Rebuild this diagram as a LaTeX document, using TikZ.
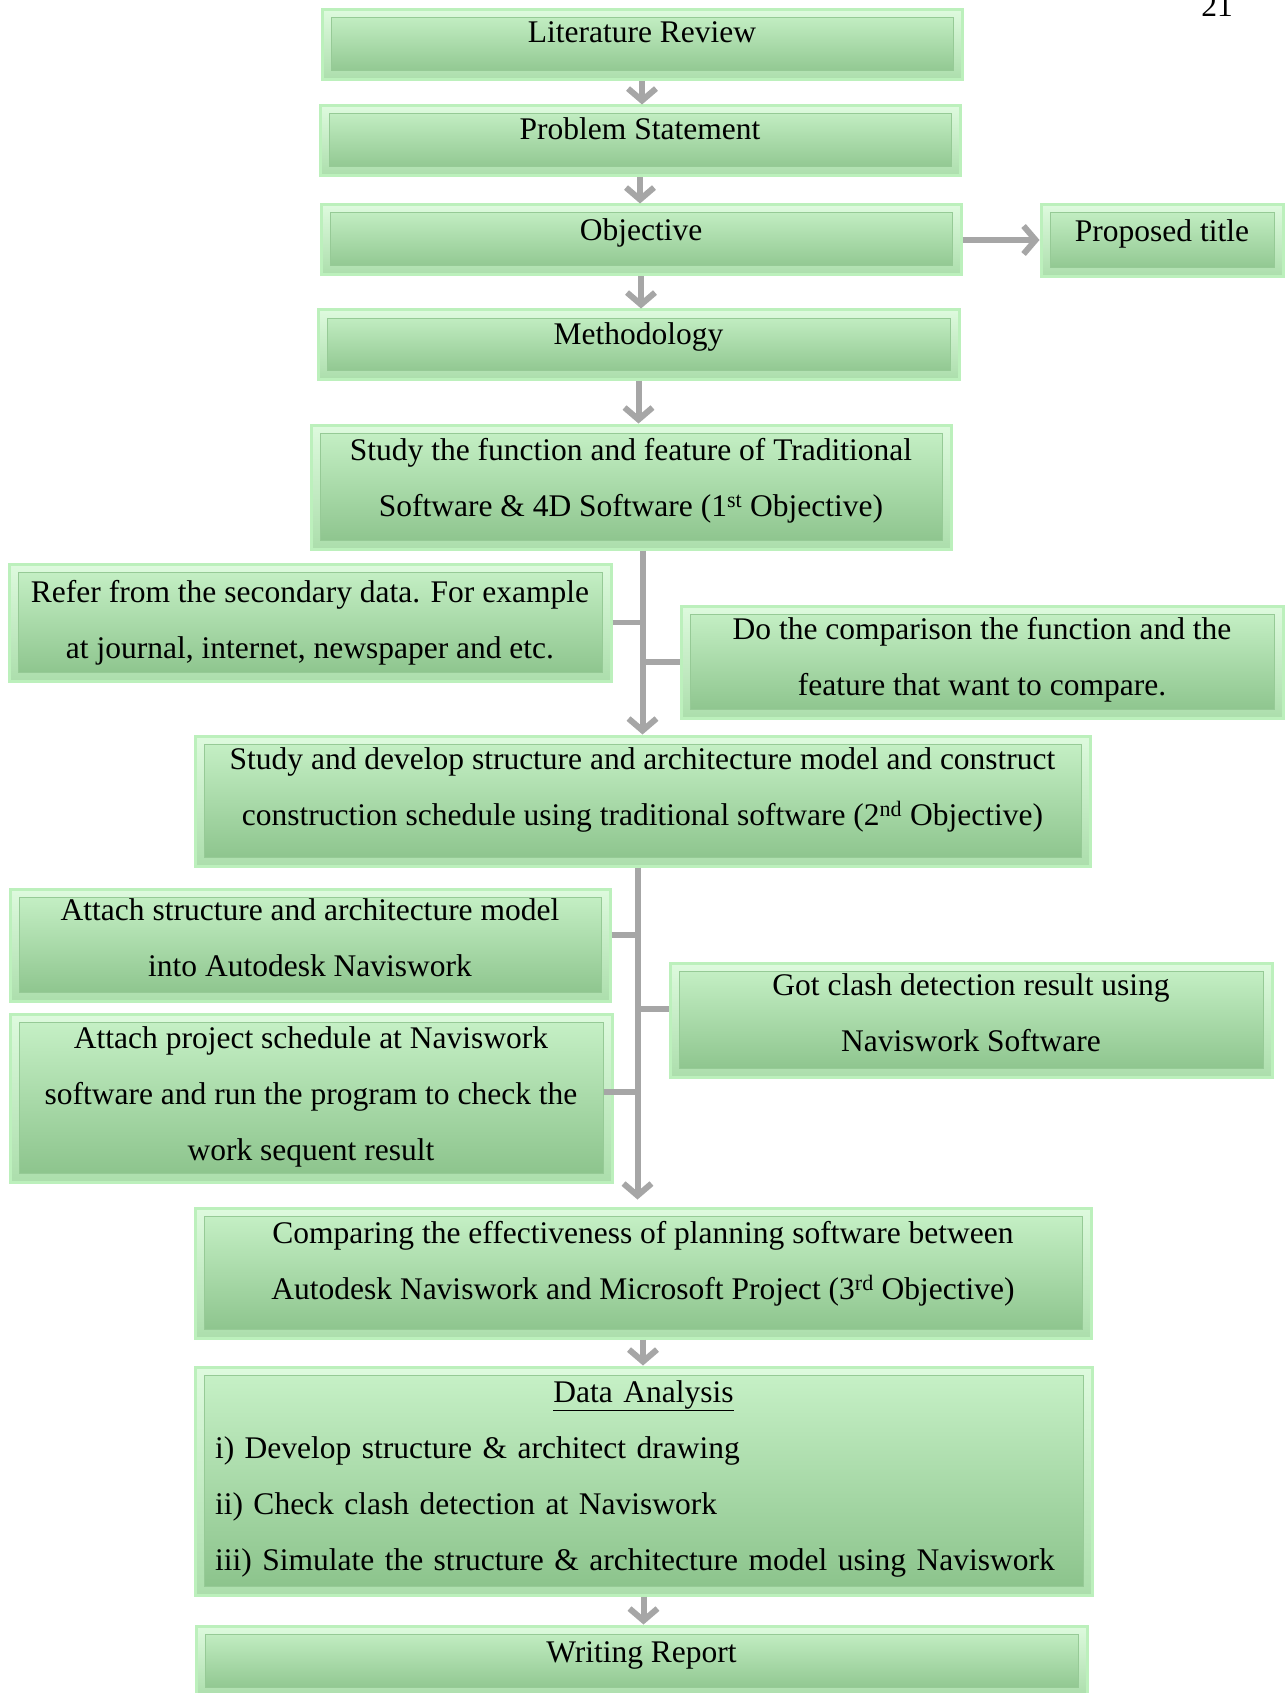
\documentclass[tikz,border=0pt]{standalone}
\usepackage{fontspec}
\setmainfont{Liberation Serif}
\usepackage{tikz}
\usetikzlibrary{arrows.meta}

\definecolor{boxtop}{RGB}{200,242,200}
\definecolor{boxbot}{RGB}{138,194,138}
\definecolor{rimtop}{RGB}{222,250,222}
\definecolor{rimbot}{RGB}{172,222,172}
\definecolor{boxline}{RGB}{150,202,150}
\definecolor{boxglow}{RGB}{188,240,188}
\definecolor{flow}{RGB}{166,166,166}

\begin{document}
\begin{tikzpicture}[x=1pt,y=1pt,
  stage/.style={rectangle,inner sep=0pt,draw=boxglow,line width=3pt,
    top color=rimtop,bottom color=rimbot,
    font=\fontsize{31.5}{56}\selectfont,align=center,text depth=22pt,
    path picture={
      \shade[top color=boxtop,bottom color=boxbot,draw=boxline,line width=1pt]
        ([shift={(9pt,-8pt)}]path picture bounding box.north west)
        rectangle ([shift={(-9pt,9pt)}]path picture bounding box.south east);}},
  arr/.style={-{Straight Barb[length=12pt,width=28pt]},draw=flow,line width=6pt},
  link/.style={draw=flow,line width=5.5pt}]

  \useasboundingbox (0,0) rectangle (1285,-1693);

  \node[anchor=base,font=\fontsize{31.5}{56}\selectfont] (pagenum) at (1217,-17) {21};

  % main column
  \node[stage,minimum width=640pt,minimum height=70pt,text depth=25pt] (lit) at (642,-45) {Literature Review};
  \node[stage,minimum width=640pt,minimum height=70pt,text depth=24pt] (prob) at (640,-141) {Problem Statement};
  \node[stage,minimum width=640pt,minimum height=70pt,text depth=20pt] (obj) at (641,-240) {Objective};
  \node[stage,minimum width=242pt,minimum height=72pt,text depth=20pt] (title) at (1162,-241) {Proposed title};
  \node[stage,minimum width=641pt,minimum height=69pt] (meth) at (638.5,-344.5) {Methodology};
  \node[stage,minimum width=640pt,minimum height=124pt,text depth=20pt] (func) at (631,-487)
    {Study the function and feature of Traditional\\Software \& 4D Software (1\textsuperscript{st} Objective)};

  % 1st objective side boxes
  \node[stage,minimum width=602pt,minimum height=117pt,text depth=7pt] (refer) at (310,-622.5)
    {Refer from the secondary data. For example\\at journal, internet, newspaper and etc.};
  \node[stage,minimum width=602pt,minimum height=112pt,text depth=12pt] (compare) at (982,-662)
    {Do the comparison the function and the\\feature that want to compare.};

  \node[stage,minimum width=895pt,minimum height=130pt,text depth=28pt] (develop) at (642.5,-801)
    {Study and develop structure and architecture model and construct\\construction schedule using traditional software (2\textsuperscript{nd} Objective)};

  % 2nd objective side boxes
  \node[stage,minimum width=600pt,minimum height=112pt,text depth=14pt] (attach) at (310,-945)
    {Attach structure and architecture model\\into Autodesk Naviswork};
  \node[stage,minimum width=602pt,minimum height=168pt,text depth=8pt] (sched) at (311,-1098)
    {Attach project schedule at Naviswork\\software and run the program to check the\\work sequent result};
  \node[stage,minimum width=602pt,minimum height=114pt,text depth=14pt] (clash) at (971,-1020)
    {Got clash detection result using\\Naviswork Software};

  \node[stage,minimum width=896pt,minimum height=130pt,text depth=26pt] (effect) at (643,-1273)
    {Comparing the effectiveness of planning software between\\Autodesk Naviswork and Microsoft Project (3\textsuperscript{rd} Objective)};
  \node[stage,minimum width=897pt,minimum height=228pt,text height=22pt,text depth=180pt,text width=857pt,align=left] (data) at (643.5,-1481)
    {\makebox[\linewidth]{\underline{Data Analysis}}\\
     i) Develop structure \& architect drawing\\
     ii) Check clash detection at Naviswork\\
     iii) Simulate the structure \& architecture model using Naviswork};
  \node[stage,minimum width=891pt,minimum height=70pt,text depth=18pt] (report) at (641.5,-1661) {Writing Report};

  % connectors
  \draw[arr] (lit.south) -- (lit.south |- prob.north);
  \draw[arr] (prob.south) -- (prob.south |- obj.north);
  \draw[arr] (obj.south) -- (obj.south |- meth.north);
  \draw[arr] (obj.east) -- (obj.east -| title.west);
  \draw[arr] (meth.south) -- (meth.south |- func.north);

  \draw[arr] (develop.north |- func.south) -- (develop.north);
  \draw[link] (refer.east) -- (refer.east -| develop.north);
  \draw[link] (compare.west) -- (compare.west -| develop.north);

  \coordinate (bus) at ([xshift=-5pt]develop.south);
  \draw[arr] (bus) -- ([yshift=7pt]bus |- effect.north);
  \draw[link] ([yshift=10pt]attach.east) -- ([yshift=10pt]attach.east -| bus);
  \draw[link] ([yshift=11pt]clash.west) -- ([yshift=11pt]clash.west -| bus);
  \draw[link] ([xshift=-10pt,yshift=6pt]sched.east) -- ([yshift=6pt]sched.east -| bus);

  \draw[arr] (effect.south) -- (effect.south |- data.north);
  \draw[arr] (data.south) -- (data.south |- report.north);

\end{tikzpicture}
\end{document}
